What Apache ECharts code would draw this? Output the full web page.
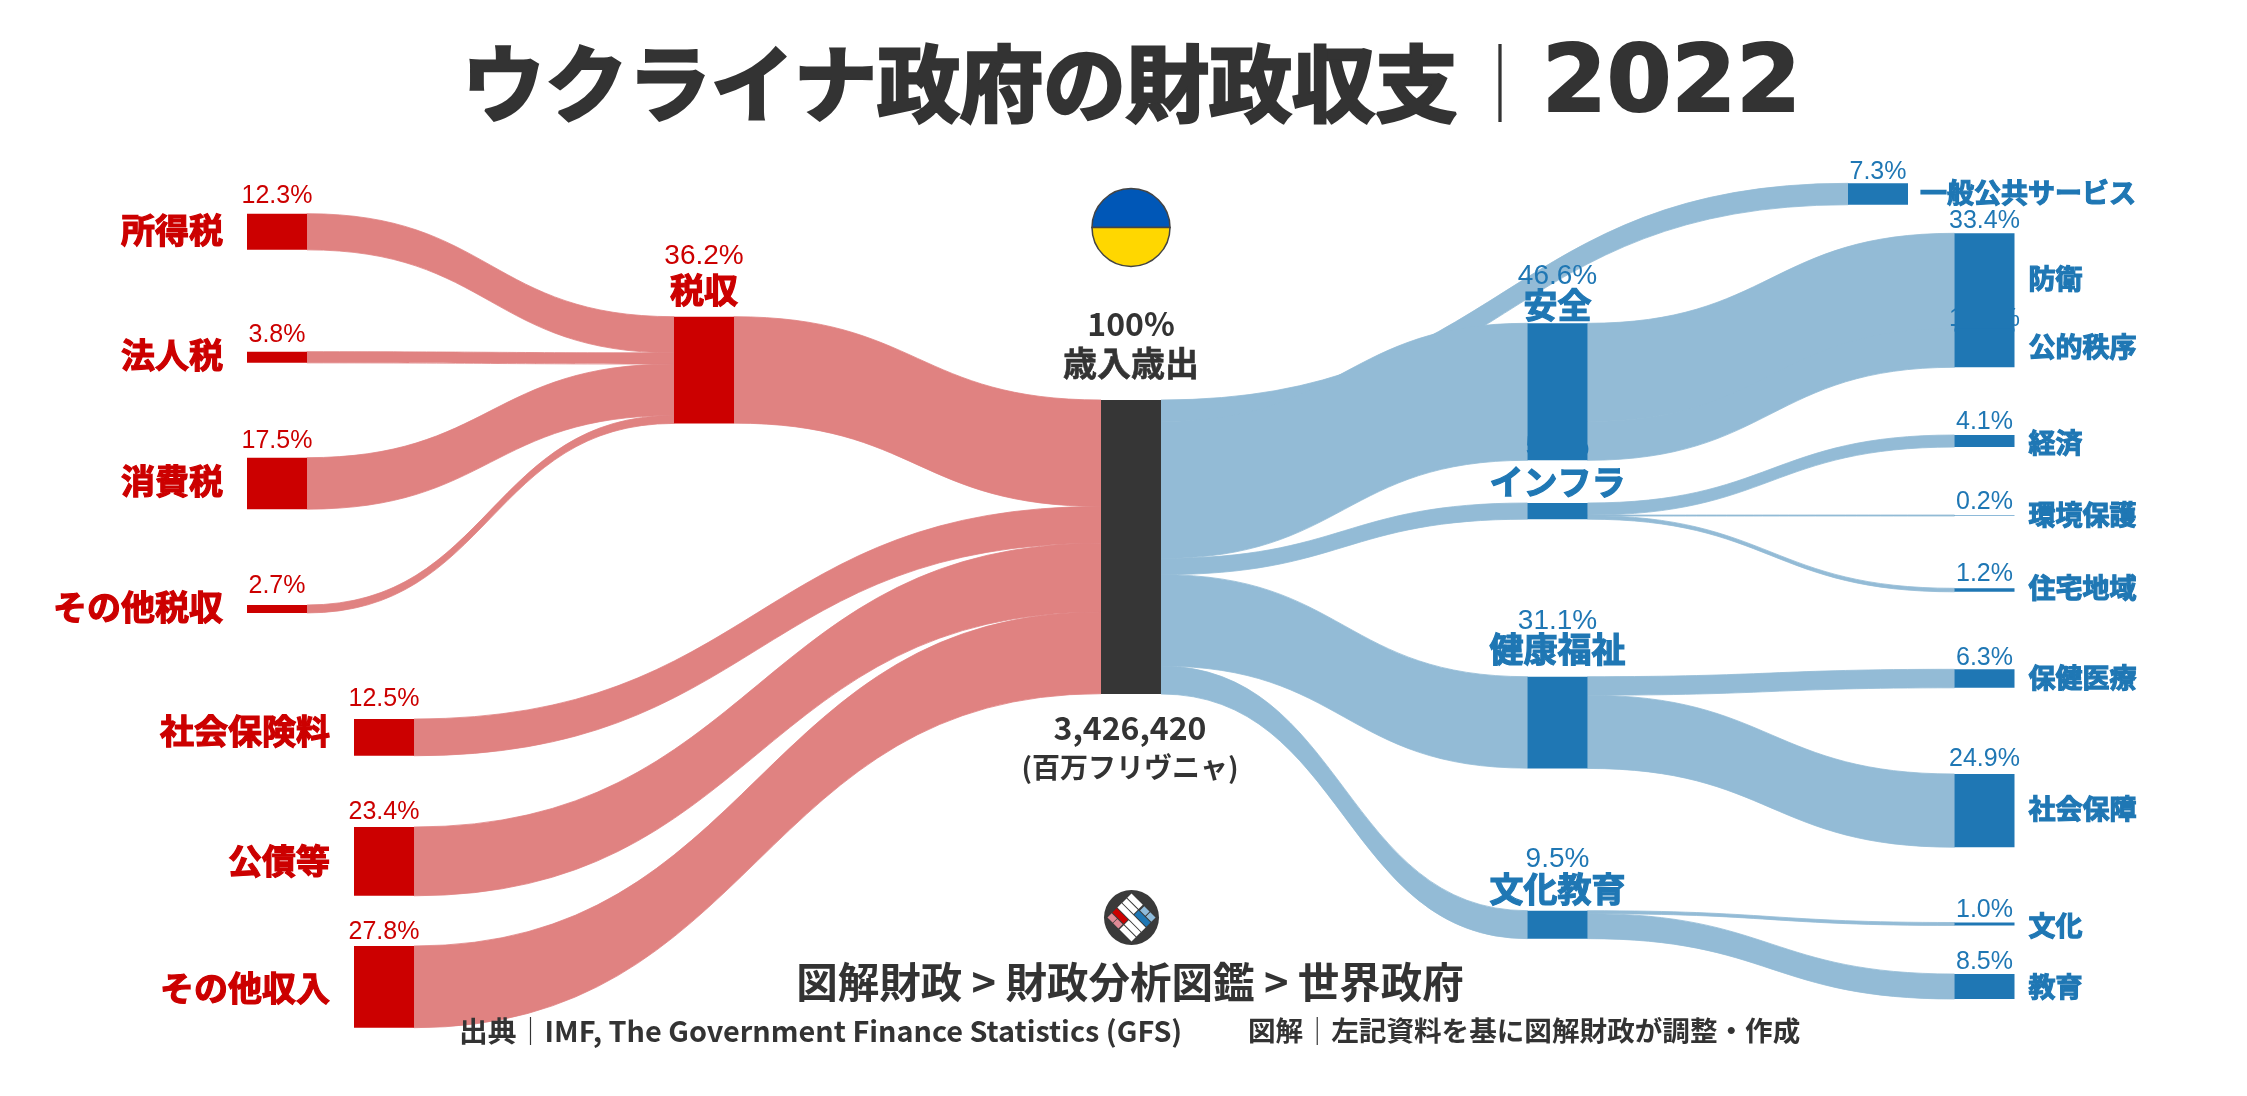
<!DOCTYPE html>
<html>
<head>
<meta charset="utf-8">
<title>ウクライナ政府の財政収支 2022</title>
<script src="https://cdn.jsdelivr.net/npm/echarts@6/dist/echarts.min.js"></script>
<style>
  html, body { margin: 0; background: #fff; }
  #main { width: 2247px; height: 1096px; }
</style>
</head>
<body>
<div id="main"></div>
<script>
// 歳入・歳出 (% of total)
const nodeNames = ['所得税', '法人税', '消費税', 'その他税収', '税収', '社会保険料', '公債等', 'その他収入',
  '歳入歳出',
  '一般公共サービス', '安全', '防衛', '公的秩序', 'インフラ', '経済', '環境保護', '住宅地域',
  '健康福祉', '保健医療', '社会保障', '文化教育', '文化', '教育'];
const nodeValues = [12.3, 3.8, 17.5, 2.7, 36.2, 12.5, 23.4, 27.8,
  100,
  7.3, 46.6, 33.4, 13.2, 5.5, 4.1, 0.2, 1.2,
  31.1, 6.3, 24.9, 9.5, 1.0, 8.5];
const incomeLinks = [
  ['所得税', '税収', 12.3], ['法人税', '税収', 3.8], ['消費税', '税収', 17.5], ['その他税収', '税収', 2.7],
  ['税収', '歳入歳出', 36.2], ['社会保険料', '歳入歳出', 12.5], ['公債等', '歳入歳出', 23.4], ['その他収入', '歳入歳出', 27.8]
];
const spendLinks = [
  ['歳入歳出', '一般公共サービス', 7.3], ['歳入歳出', '安全', 46.6], ['歳入歳出', 'インフラ', 5.5],
  ['歳入歳出', '健康福祉', 31.1], ['歳入歳出', '文化教育', 9.5],
  ['安全', '防衛', 33.4], ['安全', '公的秩序', 13.2],
  ['インフラ', '経済', 4.1], ['インフラ', '環境保護', 0.2], ['インフラ', '住宅地域', 1.2],
  ['健康福祉', '保健医療', 6.3], ['健康福祉', '社会保障', 24.9],
  ['文化教育', '文化', 1.0], ['文化教育', '教育', 8.5]
];
const totalValue = '3,426,420';
const totalUnit = '(百万フリヴニャ)';

// placement of each node: x, y of the node, distance from the node top to the
// centre of the percent label, and how the name label sits
const BOX = { left: 247, top: 400, width: 1767, height: 294.3 };
const placement = {
  '所得税': [247, 213.7, 20, 'left'],
  '法人税': [247, 351.7, 19, 'left'],
  '消費税': [247, 457.7, 19, 'left'],
  'その他税収': [247, 605, 21, 'left'],
  '税収': [674, 316.7, 63, 27],
  '社会保険料': [354, 719, 22, 'left'],
  '公債等': [354, 827, 17, 'left'],
  'その他収入': [354, 946, 16, 'left'],
  '歳入歳出': [1101, 400, 76, 37],
  '一般公共サービス': [1848, 183.3, 14, 'right'],
  '安全': [1527.5, 323.3, 50, 18],
  '防衛': [1954.5, 233.3, 15, 'right'],
  '公的秩序': [1954.5, 328.5, 11.5, 'right'],
  'インフラ': [1527.5, 503, 58.5, 21],
  '経済': [1954.5, 435, 15, 'right'],
  '環境保護': [1954.5, 515, 15, 'right'],
  '住宅地域': [1954.5, 588.3, 17, 'right'],
  '健康福祉': [1527.5, 676.7, 58, 27.7],
  '保健医療': [1954.5, 669.3, 14, 'right'],
  '社会保障': [1954.5, 774, 17, 'right'],
  '文化教育': [1527.5, 910.7, 54, 21.7],
  '文化': [1954.5, 922.5, 15, 'right'],
  '教育': [1954.5, 974, 14, 'right']
};
// small vertical shifts of the name labels
const nameNudge = {
  '社会保険料': -4, '公債等': 2, 'その他収入': 3,
  '防衛': -3, '経済': 3, '文化': 3, '教育': 1, '住宅地域': -1, '社会保障': -1
};
const hiddenPercent = ['公的秩序', 'インフラ'];  // these sit under the bars in the original

const JP = "'Noto Sans CJK JP', 'Noto Sans', sans-serif";
const LATIN = "'Liberation Sans', Arial, sans-serif";
const RED = '#cc0000', RED_BAND = '#e08281', BLUE = '#1f77b4', BLUE_BAND = '#93bbd6', DARK = '#363636', TEXT = '#333333';

function sideColor(name) {
  if (name === '歳入歳出') return DARK;
  return nodeNames.indexOf(name) < 8 ? RED : BLUE;
}

function percentLabel(name, value) {
  const p = placement[name];
  const isMid = typeof p[3] === 'number';
  const isCentre = name === '歳入歳出';
  const size = isCentre ? 32 : (isMid ? 28 : 25);
  return {
    show: true,
    position: 'top',
    distance: p[2] - size / 2 - (isCentre ? 0 : 2.5),
    formatter: value === 100 ? '100%' : value.toFixed(1) + '%',
    color: isCentre ? TEXT : sideColor(name),
    fontFamily: isCentre ? JP : LATIN,
    fontWeight: isCentre ? 700 : 400,
    fontSize: size,
    lineHeight: size
  };
}

function nameLabel(name) {
  const p = placement[name];
  const isCentre = name === '歳入歳出';
  const color = isCentre ? TEXT : sideColor(name);
  const base = {
    show: true,
    formatter: name,
    color: color,
    fontFamily: JP,
    fontWeight: 700,
    textBorderColor: color,
    textBorderWidth: isCentre ? 0.6 : 1.2,
    lineHeight: 34
  };
  const dy = nameNudge[name] || 0;
  if (p[3] === 'left') return { ...base, position: 'left', distance: 24, fontSize: 34, offset: [0, dy - 2] };
  if (p[3] === 'right') {
    return { ...base, position: 'right', distance: name === '一般公共サービス' ? 12 : 14, fontSize: 27, offset: [0, dy - 1] };
  }
  return { ...base, position: 'top', distance: p[3] - 17, fontSize: 34 };
}

function buildNodes(style, labelFor) {
  return nodeNames.map((name, i) => ({
    name: name,
    value: nodeValues[i],
    localX: (placement[name][0] - BOX.left) / BOX.width,
    localY: (placement[name][1] - BOX.top) / BOX.height,
    itemStyle: style(name),
    label: labelFor(name, nodeValues[i])
  }));
}

function buildLinks(visible) {
  const toLink = (color) => (l) => ({
    source: l[0], target: l[1], value: l[2],
    // thin same-colour border closes the seams between touching bands
    lineStyle: { color: color, opacity: visible ? 1 : 0, curveness: 0.5, borderColor: color, borderWidth: 0.8 }
  });
  return incomeLinks.map(toLink(RED_BAND)).concat(spendLinks.map(toLink(BLUE_BAND)));
}

function sankeyLayer(z, nodes, links) {
  return {
    type: 'sankey',
    z: z,
    silent: true,
    left: BOX.left, top: BOX.top, width: BOX.width, height: BOX.height,
    nodeWidth: 60,
    nodeGap: 0,
    layoutIterations: 0,
    draggable: false,
    emphasis: { disabled: true },
    data: nodes,
    links: links
  };
}

const hiddenStyle = () => ({ opacity: 0, borderWidth: 0 });
const solidStyle = (name) => ({ color: sideColor(name), opacity: 1, borderWidth: 0 });

const series = [
  // bands, with the two labels that end up under the bars
  sankeyLayer(2, buildNodes(hiddenStyle, (name, value) =>
    hiddenPercent.includes(name) ? percentLabel(name, value) : { show: false }), buildLinks(true)),
  // bars and percent labels
  sankeyLayer(3, buildNodes(solidStyle, (name, value) =>
    hiddenPercent.includes(name) ? { show: false } : percentLabel(name, value)), buildLinks(false)),
  // names
  sankeyLayer(4, buildNodes(hiddenStyle, nameLabel), buildLinks(false))
];

const logoCells = [
  [-17, -3, 34, 6, '#fff'],
  [0, -10, 17, 6, BLUE], [1, -17, 7.5, 6, '#8fbcdc'], [9.5, -17, 7.5, 6, '#8fbcdc'],
  [-17, -10, 16, 6, '#fff'], [-17, -17, 16, 6, '#fff'],
  [-17, 4, 16, 6, RED], [-17, 11, 7.5, 6, '#e08a96'], [-9, 11, 7.5, 6, '#e08a96'],
  [0, 4, 17, 6, '#fff'], [0, 11, 17, 6, '#fff']
];

const barRich = { b: { fontFamily: JP, fontWeight: 400, fontSize: 28, color: TEXT } };

const chart = echarts.init(document.getElementById('main'), null, { renderer: 'canvas' });
chart.setOption({
  backgroundColor: '#ffffff',
  animation: false,
  title: [
    {
      text: 'ウクライナ政府の財政収支', left: 462, top: 42, padding: 0,
      textStyle: { fontFamily: JP, fontWeight: 700, fontSize: 83, lineHeight: 83, color: TEXT, textBorderColor: TEXT, textBorderWidth: 3 }
    },
    {
      text: '｜', left: 1500, top: 42, padding: 0, textAlign: 'center',
      textStyle: { fontFamily: JP, fontWeight: 400, fontSize: 78, lineHeight: 83, color: TEXT }
    },
    {
      text: '2022', left: 1542, top: 40, padding: 0,
      textStyle: { fontFamily: "'DejaVu Sans'", fontWeight: 700, fontSize: 93, lineHeight: 93, color: TEXT, textBorderColor: TEXT, textBorderWidth: 2 }
    },
    {
      text: totalValue, left: 1130, top: 712, padding: 0, textAlign: 'center',
      textStyle: { fontFamily: JP, fontWeight: 700, fontSize: 32, color: TEXT }
    },
    {
      text: totalUnit, left: 1130, top: 753, padding: 0, textAlign: 'center',
      textStyle: { fontFamily: JP, fontWeight: 700, fontSize: 28, color: TEXT }
    },
    {
      text: '図解財政 > 財政分析図鑑 > 世界政府', left: 1130, top: 961, padding: 0, textAlign: 'center',
      textStyle: { fontFamily: JP, fontWeight: 700, fontSize: 41.5, color: TEXT }
    },
    {
      text: '{a|出典}{b|｜}{a|IMF, The Government Finance Statistics (GFS)}', left: 459, top: 1017, padding: 0,
      textStyle: { rich: { ...barRich, a: { fontFamily: JP, fontWeight: 700, fontSize: 28.8, color: TEXT } } }
    },
    {
      text: '{a|図解}{b|｜}{a|左記資料を基に図解財政が調整・作成}', left: 1248, top: 1017, padding: 0,
      textStyle: { rich: { ...barRich, a: { fontFamily: JP, fontWeight: 700, fontSize: 27.6, color: TEXT } } }
    }
  ],
  graphic: [
    // flag
    { type: 'sector', silent: true, shape: { cx: 1131, cy: 227.5, r: 39, startAngle: Math.PI, endAngle: Math.PI * 2 },
      style: { fill: '#0057b7', stroke: '#444', lineWidth: 1.5 } },
    { type: 'sector', silent: true, shape: { cx: 1131, cy: 227.5, r: 39, startAngle: 0, endAngle: Math.PI },
      style: { fill: '#ffd700', stroke: '#444', lineWidth: 1.5 } },
    // logo
    { type: 'circle', silent: true, shape: { cx: 1131.5, cy: 917.5, r: 27.5 }, style: { fill: '#3a3a3a' } },
    {
      type: 'group', silent: true, x: 1131.5, y: 917.5, rotation: -Math.PI / 4,
      children: logoCells.map((c) => ({
        type: 'rect', shape: { x: c[0], y: c[1], width: c[2], height: c[3] }, style: { fill: c[4] }
      }))
    }
  ],
  series: series
});
</script>
</body>
</html>
